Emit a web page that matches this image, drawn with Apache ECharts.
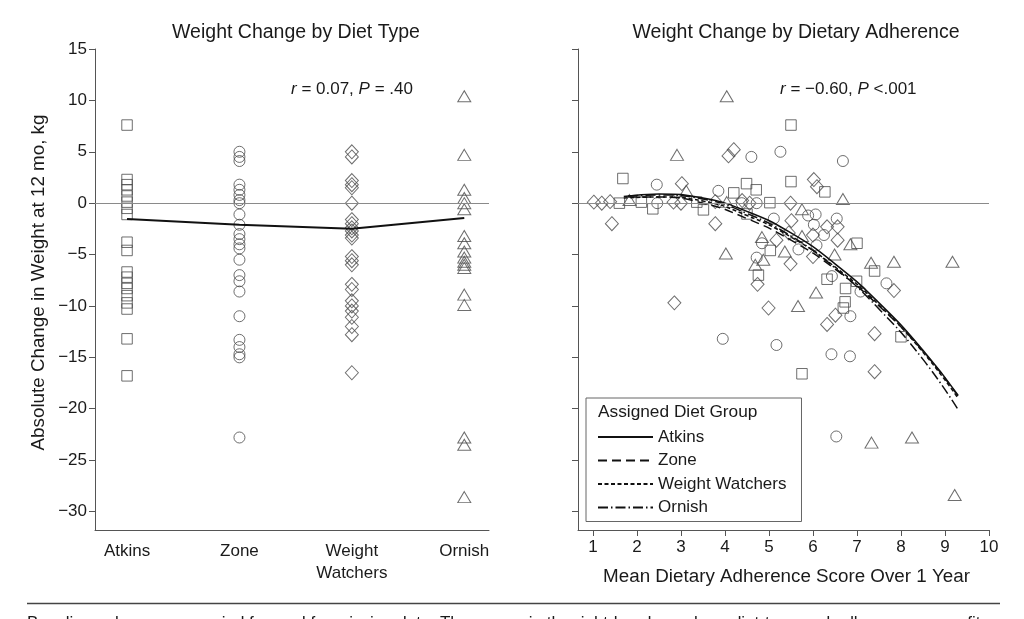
<!DOCTYPE html>
<html>
<head>
<meta charset="utf-8">
<script src="https://cdn.jsdelivr.net/npm/echarts@6/dist/echarts.min.js"></script>
<style>
html,body{margin:0;padding:0;background:#fff;}
#chart{width:1024px;height:619px;}
</style>
</head>
<body>
<div id="chart"></div>
<script>
// ---------- DATA ----------
const dietCategories = ['Atkins', 'Zone', 'Weight\nWatchers', 'Ornish'];
const yTicks = [-30, -25, -20, -15, -10, -5, 0, 5, 10, 15];
const adherenceTicks = [1, 2, 3, 4, 5, 6, 7, 8, 9, 10];

// Left panel: weight change (kg) per assigned diet
const atkinsChange = [7.6, 2.3, 1.8, 1.3, 0.7, 0.1, -0.5, -1.1, -3.8, -4.6, -6.7, -7.2, -7.8, -8.3, -9.0, -9.7, -10.3, -13.2, -16.8];
const zoneChange = [5.0, 4.5, 4.1, 1.8, 1.3, 0.8, 0.3, 0.0, -1.1, -2.1, -3.0, -3.5, -4.0, -4.4, -5.5, -7.0, -7.6, -8.6, -11.0, -13.3, -14.0, -14.7, -15.0, -22.8];
const wwChange = [5.0, 4.5, 2.2, 1.8, 1.5, 0.0, -1.6, -2.0, -2.4, -2.7, -3.1, -3.4, -5.2, -5.6, -6.0, -7.9, -8.4, -9.5, -10.0, -10.5, -11.1, -12.0, -12.8, -16.5];
const ornishChange = [10.4, 4.7, 1.3, 0.5, 0.0, -0.6, -3.2, -3.9, -4.7, -5.3, -5.7, -6.0, -6.3, -8.9, -9.9, -22.8, -23.5, -28.6];
const meanChange = [-1.55, -2.1, -2.5, -1.45];

// Right panel: [mean adherence score, weight change]
const atkinsAdh = [[1.6,0.0],[1.68,2.4],[2.1,0.1],[2.36,-0.55],[3.36,0.1],[3.51,-0.65],[4.2,1.0],[4.49,1.9],[4.71,1.3],[4.5,-1.05],[5.02,0.05],[5.5,7.6],[5.5,2.1],[6.27,1.1],[5.03,-4.6],[4.76,-7.0],[6.32,-7.4],[6.74,-8.3],[6.99,-7.6],[6.73,-9.6],[6.69,-10.2],[7.0,-3.9],[7.4,-6.6],[8.0,-13.0],[5.75,-16.6]];
const zoneAdh = [[2.45,1.8],[2.46,0.0],[3.85,1.2],[4.38,0.0],[4.72,0.0],[4.6,4.5],[5.26,5.0],[6.68,4.1],[5.11,-1.5],[5.89,-1.2],[6.06,-1.1],[6.54,-1.5],[6.02,-2.1],[6.25,-3.1],[4.84,-3.9],[5.67,-4.5],[6.08,-4.1],[4.72,-5.3],[6.43,-7.1],[6.85,-11.0],[7.08,-8.6],[7.67,-7.8],[3.95,-13.2],[5.17,-13.8],[6.42,-14.7],[6.84,-14.9],[6.53,-22.7]];
const wwAdh = [[1.02,0.1],[1.2,0.0],[1.39,0.15],[1.43,-2.0],[2.83,0.1],[3.02,1.9],[3.0,0.0],[3.78,0.15],[3.78,-2.0],[4.08,4.6],[4.2,5.2],[4.39,0.25],[4.56,0.0],[5.49,0.0],[6.02,2.3],[6.09,1.6],[5.51,-1.7],[6.32,-2.3],[6.56,-2.3],[6.0,-3.1],[6.56,-3.6],[5.45,-2.9],[5.17,-3.6],[5.49,-5.9],[6.0,-5.2],[4.74,-7.9],[2.85,-9.7],[4.99,-10.2],[6.51,-10.9],[6.32,-11.8],[7.84,-8.5],[7.4,-12.7],[7.4,-16.4]];
const ornishAdh = [[1.83,0.3],[2.91,4.7],[3.12,1.2],[4.04,0.1],[4.04,10.4],[4.02,-4.9],[5.75,-0.6],[5.75,-3.2],[4.84,-3.3],[5.36,-4.7],[6.49,-5.0],[4.69,-6.0],[4.87,-5.5],[6.68,0.4],[6.85,-4.0],[7.32,-5.8],[7.84,-5.7],[9.17,-5.7],[6.07,-8.7],[5.66,-10.0],[7.33,-23.3],[8.25,-22.8],[9.22,-28.4]];

// Fitted curves
const atkinsFit = [[1.7,0.65],[2.5,0.9],[3.5,0.5],[4.5,-0.8],[5.5,-2.9],[6.5,-5.9],[7.5,-9.7],[8.5,-14.3],[9.3,-18.7]];
const zoneFit = [[1.8,0.6],[2.5,0.6],[3.5,0.0],[4.5,-1.5],[5.5,-3.6],[6.5,-6.4],[7.5,-10.0],[8.5,-14.4],[9.3,-18.8]];
const wwFit = [[1.7,0.5],[2.5,0.6],[3.5,0.2],[4.5,-1.2],[5.5,-3.3],[6.5,-6.2],[7.5,-9.9],[8.5,-14.5],[9.3,-19.0]];
const ornishFit = [[1.8,0.7],[2.5,0.8],[3.5,0.4],[4.5,-1.0],[5.5,-3.2],[6.5,-6.3],[7.5,-10.3],[8.5,-15.2],[9.3,-20.1]];

// ---------- CHART ----------
const FONT = 'Liberation Sans';
const TXT = '#1a1a1a';
const AX = '#555';
const MK = '#4a4a4a';
const fmtNum = v => (v < 0 ? '\u2212' + Math.abs(v) : String(v));

const markerStyle = { color: 'rgba(0,0,0,0)', borderColor: MK, borderWidth: 1 };
const shapes = {
  Atkins: { symbol: 'rect', size: 10.5 },
  Zone: { symbol: 'circle', size: 11 },
  WW: { symbol: 'diamond', size: [13, 14] },
  Ornish: { symbol: 'triangle', size: [13, 11] }
};
const zeroLine = {
  silent: true, symbol: ['none', 'none'], label: { show: false },
  lineStyle: { color: '#8a8a8a', width: 1, type: 'solid' },
  data: [{ yAxis: 0 }]
};

function scatter(name, xi, yi, data, shape, withZero) {
  const s = {
    type: 'scatter', name: name, xAxisIndex: xi, yAxisIndex: yi,
    data: data, symbol: shape.symbol, symbolSize: shape.size,
    itemStyle: markerStyle, z: 3, silent: true
  };
  if (withZero) s.markLine = zeroLine;
  return s;
}
function fit(name, data, type) {
  return {
    type: 'line', name: name, xAxisIndex: 1, yAxisIndex: 1, data: data,
    smooth: true, symbol: 'none', z: 4, silent: true,
    itemStyle: { color: '#111' },
    lineStyle: { color: '#111', width: 1.5, type: type }
  };
}
const yAxisBase = {
  type: 'value', min: -31.8, max: 15,
  axisLine: { show: true, lineStyle: { color: AX, width: 1 } },
  axisTick: { show: true, length: 6, lineStyle: { color: AX }, customValues: yTicks },
  splitLine: { show: false }
};

const chart = echarts.init(document.getElementById('chart'), null, { renderer: 'canvas' });
chart.setOption({
  animation: false,
  backgroundColor: '#fff',
  textStyle: { fontFamily: FONT, color: TXT },
  title: [
    { text: 'Weight Change by Diet Type', left: 291, top: 18, textAlign: 'center',
      textStyle: { fontFamily: FONT, fontSize: 19.5, fontWeight: 'normal', color: TXT } },
    { text: 'Weight Change by Dietary Adherence', left: 791, top: 18, textAlign: 'center',
      textStyle: { fontFamily: FONT, fontSize: 19.5, fontWeight: 'normal', color: TXT } }
  ],
  grid: [
    { left: 95, right: 535, top: 49, bottom: 89 },
    { left: 578, right: 35, top: 49, bottom: 89 }
  ],
  xAxis: [
    { gridIndex: 0, type: 'value', min: 0.715, max: 4.22,
      axisLine: { show: true, onZero: false, lineStyle: { color: AX } },
      axisTick: { show: false },
      splitLine: { show: false },
      axisLabel: { customValues: [1, 2, 3, 4], formatter: v => dietCategories[Math.round(v) - 1],
        fontSize: 17, color: TXT, margin: 10, lineHeight: 22, fontFamily: FONT } },
    { gridIndex: 1, type: 'value', min: 0.66, max: 10,
      name: 'Mean Dietary Adherence Score Over 1 Year', nameLocation: 'middle', nameGap: 37,
      nameTextStyle: { fontSize: 18.8, color: TXT, fontFamily: FONT, padding: [0, 0, 0, 6] },
      axisLine: { show: true, onZero: false, lineStyle: { color: AX } },
      axisTick: { show: true, length: 6, lineStyle: { color: AX }, customValues: adherenceTicks },
      splitLine: { show: false },
      axisLabel: { customValues: adherenceTicks, fontSize: 17, color: TXT, margin: 9, fontFamily: FONT } }
  ],
  yAxis: [
    Object.assign({}, yAxisBase, { gridIndex: 0,
      name: 'Absolute Change in Weight at 12 mo, kg', nameLocation: 'middle', nameGap: 47,
      nameTextStyle: { fontSize: 18.8, color: TXT, fontFamily: FONT, padding: [0, 0, 0, 14] },
      axisLabel: { customValues: yTicks, formatter: fmtNum, fontSize: 17, color: TXT, margin: 8, fontFamily: FONT } }),
    Object.assign({}, yAxisBase, { gridIndex: 1, axisLabel: { show: false } })
  ],
  legend: {
    data: ['Atkins', 'Zone', 'Weight Watchers', 'Ornish'],
    orient: 'vertical', left: 586, top: 398,
    itemWidth: 55, itemHeight: 14, itemGap: 5.5,
    padding: [30, 15, 5, 11],
    borderColor: '#666', borderWidth: 1, backgroundColor: '#fff',
    itemStyle: { opacity: 0 },
    textStyle: { fontSize: 17, color: TXT, fontFamily: FONT, lineHeight: 18 },
    selectedMode: false
  },
  graphic: [
    { type: 'text', left: 291, top: 81, z: 10,
      style: { text: '{i|r}{n| = 0.07, }{i|P}{n| = .40}', fill: TXT,
        rich: { i: { fontStyle: 'italic', fontSize: 17, fontFamily: FONT, fill: TXT },
                n: { fontSize: 17, fontFamily: FONT, fill: TXT } } } },
    { type: 'text', left: 780, top: 81, z: 10,
      style: { text: '{i|r}{n| = \u22120.60, }{i|P}{n| <.001}', fill: TXT,
        rich: { i: { fontStyle: 'italic', fontSize: 17, fontFamily: FONT, fill: TXT },
                n: { fontSize: 17, fontFamily: FONT, fill: TXT } } } },
    { type: 'text', left: 598, top: 404, z: 10,
      style: { text: 'Assigned Diet Group', fontSize: 17.3, fontFamily: FONT, fill: TXT } },
    { type: 'line', z: 10, shape: { x1: 27, y1: 603.5, x2: 1000, y2: 603.5 },
      style: { stroke: '#444', lineWidth: 1.5 } },
    { type: 'text', left: 27, top: 615, z: 10,
      style: { text: 'Baseline values were carried forward for missing data. The curves in the right-hand panel are diet-type and adherence-score fits.',
        fontSize: 17, fontFamily: FONT, fill: TXT } }
  ],
  series: [
    scatter('Atkins pts L', 0, 0, atkinsChange.map(v => [1, v]), shapes.Atkins, true),
    scatter('Zone pts L', 0, 0, zoneChange.map(v => [2, v]), shapes.Zone, false),
    scatter('WW pts L', 0, 0, wwChange.map(v => [3, v]), shapes.WW, false),
    scatter('Ornish pts L', 0, 0, ornishChange.map(v => [4, v]), shapes.Ornish, false),
    { type: 'line', name: 'Mean', xAxisIndex: 0, yAxisIndex: 0, silent: true,
      data: meanChange.map((v, i) => [i + 1, v]), symbol: 'none', z: 5,
      lineStyle: { color: '#111', width: 2 } },
    scatter('Atkins pts R', 1, 1, atkinsAdh, shapes.Atkins, true),
    scatter('Zone pts R', 1, 1, zoneAdh, shapes.Zone, false),
    scatter('WW pts R', 1, 1, wwAdh, shapes.WW, false),
    scatter('Ornish pts R', 1, 1, ornishAdh, shapes.Ornish, false),
    fit('Atkins', atkinsFit, 'solid'),
    fit('Zone', zoneFit, [9, 5]),
    fit('Weight Watchers', wwFit, [4, 2.5]),
    fit('Ornish', ornishFit, [10, 3, 1.5, 3])
  ]
});
</script>
</body>
</html>
